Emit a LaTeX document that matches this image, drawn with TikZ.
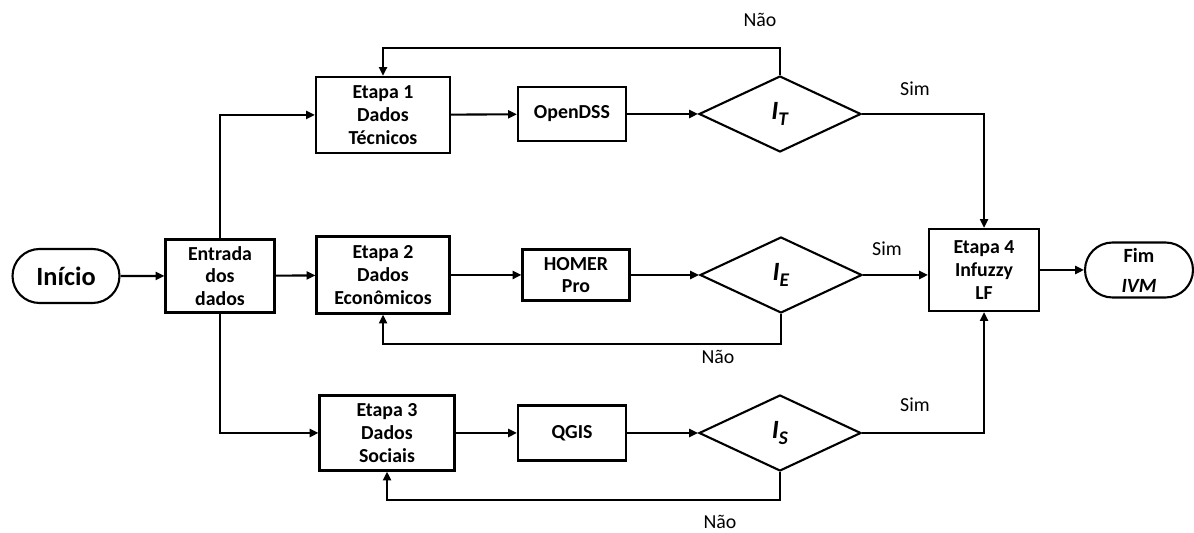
\documentclass[tikz,border=0pt]{standalone}
\usepackage{fontspec}
\setmainfont{Carlito}
\usetikzlibrary{shapes.geometric,shapes.misc,arrows.meta}
\tikzset{
  box/.style={draw,line width=1.2pt,align=center,inner sep=0pt,
    font=\fontsize{11.3}{13}\selectfont\bfseries},
  term/.style={draw,line width=1.2pt,rounded rectangle,align=center,inner sep=0pt},
  cond/.style={draw,line width=1.2pt,diamond,inner sep=0pt,
    minimum width=3.24cm,minimum height=1.52cm,font=\fontsize{15}{17}\selectfont},
  lab/.style={font=\fontsize{11.3}{13}\selectfont},
  arr/.style={line width=1.2pt,-{Triangle[length=5pt,width=4.5pt]}},
  ln/.style={line width=1.2pt}
}
\newcommand{\ind}[1]{\textbf{\textit{I}}\raisebox{-0.45ex}{\fontsize{11}{12}\selectfont\textbf{\textit{#1}}}}
\begin{document}
\begin{tikzpicture}[x=0.02cm,y=-0.02cm]
\useasboundingbox (0,0) rectangle (1194,533);
% start and data
\node[term,minimum width=2.14cm,minimum height=1.08cm,font=\fontsize{15}{17}\selectfont\bfseries] (ini) at (66,276) {Início};
\node[box,minimum width=2.18cm,minimum height=1.46cm] (ent) at (220,276) {Entrada\\dos\\dados};
% stages
\node[box,minimum width=2.68cm,minimum height=1.52cm] (e1) at (383,115) {Etapa 1\\Dados\\Técnicos};
\node[box,minimum width=2.66cm,minimum height=1.54cm] (e2) at (383,275) {Etapa 2\\Dados\\Econômicos};
\node[box,minimum width=2.70cm,minimum height=1.50cm] (e3) at (387,433) {Etapa 3\\Dados\\Sociais};
% tools
\node[box,minimum width=2.16cm,minimum height=1.08cm] (dss) at (572,114) {OpenDSS};
\node[box,minimum width=2.14cm,minimum height=1.02cm] (homer) at (576,275) {HOMER\\Pro};
\node[box,minimum width=2.16cm,minimum height=1.10cm] (qgis) at (572,433) {QGIS};
% indices
\node[cond] (it) at (780,114) {\ind{T}};
\node[cond] (ie) at (781,275) {\ind{E}};
\node[cond] (is) at (780,433) {\ind{S}};
% end
\node[box,minimum width=2.20cm,minimum height=1.64cm] (e4) at (984,270) {Etapa 4\\Infuzzy\\LF};
\node[term,minimum width=2.16cm,minimum height=1.10cm,font=\fontsize{11.5}{13}\selectfont\bfseries] (fim) at (1139,270) {Fim\\[4pt]\textit{IVM}};
% connectors
\draw[arr] (ini) -- (ent);
\draw[arr] (ent.north) |- (e1.west);
\draw[arr] (ent) -- (e2);
\draw[arr] (ent.south) |- (e3.west);
\draw[arr] (e1) -- (dss);
\draw[arr] (e2) -- (homer);
\draw[arr] (e3) -- (qgis);
\draw[arr] (dss) -- (it);
\draw[arr] (homer) -- (ie);
\draw[arr] (qgis) -- (is);
\draw[arr] (it.north) -- ++(0,-27) -| (e1.north);
\draw[arr] (ie.south) -- ++(0,30) -| (e2.south);
\draw[arr] (is.south) -- ++(0,28) -| (e3.south);
\draw[arr] (it.east) -| (e4.north);
\draw[arr] (ie.east) -- (ie.east -| e4.west);
\draw[arr] (is.east) -| (e4.south);
\draw[arr] (e4) -- (fim);
% labels
\node[lab] (n1) at (760,20) {Não};
\node[lab] (n2) at (718,357) {Não};
\node[lab] (n3) at (720,522) {Não};
\node[lab] (s1) at (915,89) {Sim};
\node[lab] (s2) at (887,249) {Sim};
\node[lab] (s3) at (915,405) {Sim};
\end{tikzpicture}
\end{document}
